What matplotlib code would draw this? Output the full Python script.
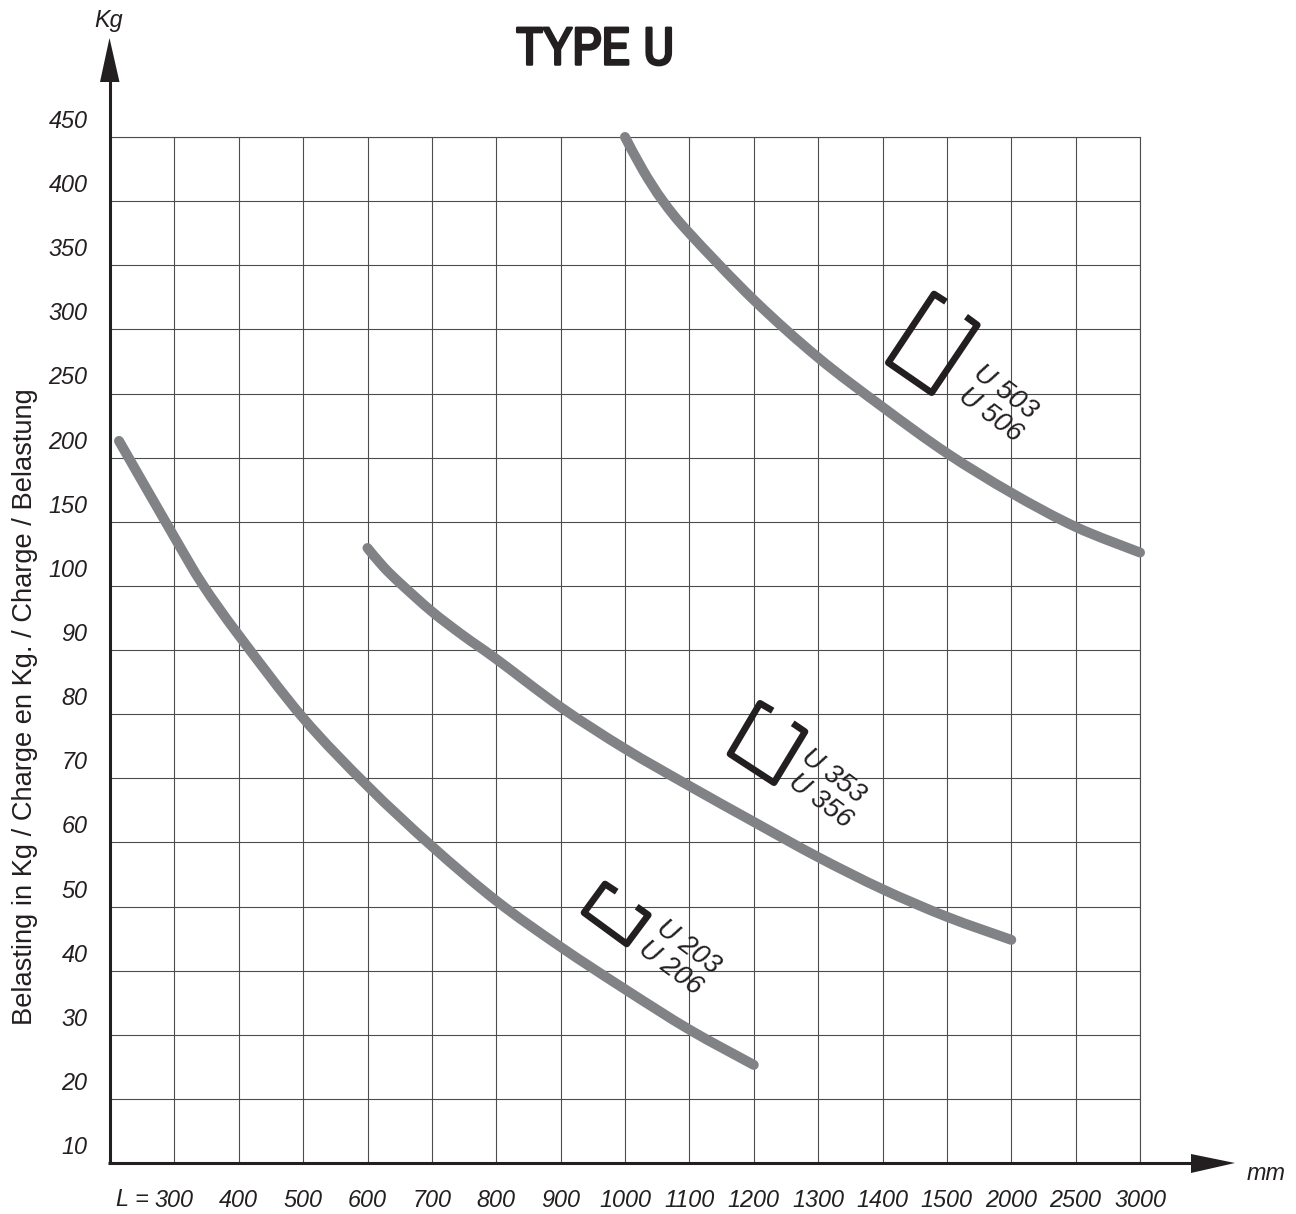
#!/usr/bin/env python3
"""Load curves for U profiles, TYPE U."""

import matplotlib.pyplot as plt
import matplotlib.patheffects as pe
import numpy as np
from matplotlib.patches import PathPatch, Polygon
from matplotlib.path import Path
from matplotlib.transforms import IdentityTransform, ScaledTranslation

plt.rcParams["font.family"] = ["Liberation Sans", "DejaVu Sans"]

# axis ticks are evenly spaced, though the values are not
x_ticks = [300, 400, 500, 600, 700, 800, 900, 1000, 1100, 1200, 1300, 1400, 1500, 2000, 2500, 3000]
y_ticks = [10, 20, 30, 40, 50, 60, 70, 80, 90, 100, 150, 200, 250, 300, 350, 400, 450]

u203_mm = [214, 300, 344, 400, 500, 600, 700, 800, 900, 1000, 1100, 1200]
u203_kg = [213, 138, 101, 92.3, 79.4, 68.8, 59.4, 50.9, 43.7, 37.1, 30.8, 25.3]

u353_mm = [600, 625, 653, 700, 748, 800, 900, 1000, 1100, 1200, 1300, 1400, 1500, 2000]
u353_kg = [129.5, 114.7, 101, 96, 92.3, 88.6, 81.1, 74.6, 68.8, 63.2, 57.7, 52.7, 48.4, 44.8]

u503_mm = [1000, 1028, 1059, 1100, 1200, 1300, 1400, 1500, 2000, 2500, 3000]
u503_kg = [450, 424, 400, 375, 323, 278, 239.5, 203.5, 172.6, 146, 126]

curves = [(u203_mm, u203_kg), (u353_mm, u353_kg), (u503_mm, u503_kg)]

W, H = 1296, 1214
DARK = "#231f20"
GREY = "#808285"
LABEL = dict(style="italic", fontsize=16.8, color=DARK)

x_pos = [200] + x_ticks
y_pos = y_ticks
x_idx = np.arange(len(x_pos))
y_idx = np.arange(len(y_pos))


def smooth_path(pts):
    # bezier through the read points, so the thick line shows no corners
    pts = np.vstack([pts[0], pts, pts[-1]])
    verts = [pts[1]]
    codes = [Path.MOVETO]
    for i in range(1, len(pts) - 2):
        verts += [pts[i] + (pts[i + 1] - pts[i - 1]) / 6, pts[i + 1] - (pts[i + 2] - pts[i]) / 6, pts[i + 1]]
        codes += [Path.CURVE4] * 3
    return Path(verts, codes)


fig = plt.figure(figsize=(W / 100, H / 100), dpi=100)
ax = fig.add_axes([110 / W, 1 - 1163 / H, 1030 / W, 1026 / H])
ax.set_xscale("function", functions=(lambda v: np.interp(v, x_pos, x_idx),
                                      lambda v: np.interp(v, x_idx, x_pos)))
ax.set_yscale("function", functions=(lambda v: np.interp(v, y_pos, y_idx),
                                     lambda v: np.interp(v, y_idx, y_pos)))
ax.set_xlim(200, 3000)
ax.set_ylim(10, 450)
ax.minorticks_off()
ax.set_xticks(x_ticks, [str(v) for v in x_ticks], **LABEL)
ax.set_yticks(y_ticks, [str(v) for v in y_ticks], **LABEL)
ax.tick_params(axis="both", which="both", length=0)
ax.tick_params(axis="x", pad=19)
ax.tick_params(axis="y", pad=16.2)
ax.grid(True, color="#4d4d4d", linewidth=0.8)
ax.set_axisbelow(True)
for side in ("top", "right"):
    ax.spines[side].set_color("#4d4d4d")
    ax.spines[side].set_linewidth(0.8)
for side in ("left", "bottom"):
    ax.spines[side].set_visible(False)

# y labels sit above their grid line
shift = ScaledTranslation(0, 18 / 100, fig.dpi_scale_trans)
for lab in ax.get_yticklabels():
    lab.set_transform(lab.get_transform() + shift)

for mm, kg in curves:
    pts = ax.transData.transform(np.column_stack([mm, kg]))
    ax.add_patch(PathPatch(smooth_path(pts), transform=IdentityTransform(), fill=False, edgecolor=GREY,
                           linewidth=7.2, capstyle="round", joinstyle="round", clip_on=False, zorder=3))

# overlay in pixel coordinates for arrows, profile sketches and loose text
ov = fig.add_axes([0, 0, 1, 1], zorder=5)
ov.set_xlim(0, W)
ov.set_ylim(H, 0)
ov.axis("off")

ov.plot([109.5, 109.5], [1164, 80], color=DARK, linewidth=2.2, solid_capstyle="butt")
ov.plot([108, 1195], [1163, 1163], color=DARK, linewidth=2.2, solid_capstyle="butt")
ov.add_patch(Polygon([(109.5, 38), (100, 82), (119.5, 82)], closed=True, color=DARK, lw=0))
ov.add_patch(Polygon([(1235, 1163), (1191, 1154), (1191, 1173)], closed=True, color=DARK, lw=0))

profiles = [
    [(616.7, 891.7), (605, 884), (584, 912.7), (626.7, 944), (648.3, 915), (636.7, 906.7)],
    [(772.7, 710.7), (760, 703.3), (730, 754), (774, 782.7), (805, 731.7), (792.7, 723.3)],
    [(946, 301.7), (934, 294), (888.3, 362.7), (931.7, 392.7), (977.3, 325), (966, 316.7)],
]
for pts in profiles:
    px, py = zip(*pts)
    ov.plot(px, py, color=DARK, linewidth=4.8, solid_joinstyle="round", solid_capstyle="butt")

names = [("U 203", 688, 947), ("U 206", 670, 968), ("U 353", 833, 776),
         ("U 356", 820, 801), ("U 503", 1005, 392), ("U 506", 990, 415)]
for name, tx, ty in names:
    ov.text(tx, ty, name, rotation=-37, rotation_mode="anchor", ha="center", va="center",
            style="italic", fontsize=19.5, color=DARK)

# only a regular narrow face is installed, the stroke makes it bold
title = ov.text(595.5, 49.5, "TYPE U", ha="center", va="center", fontsize=38.5, color=DARK,
                family=["Archivo Narrow", "Lato"])
title.set_path_effects([pe.withStroke(linewidth=1.8, foreground=DARK)])
ov.text(109, 20, "Kg", ha="center", va="center", **LABEL)
ov.text(1266, 1174, "mm", ha="center", va="center", **LABEL)
ov.text(116.5, 1200, "L =", ha="left", va="center", **LABEL)
ov.text(25, 707, "Belasting in Kg / Charge en Kg. / Charge / Belastung", rotation=90,
        ha="center", va="center", fontsize=19.6, color=DARK)

fig.savefig("out.png", dpi=100)
